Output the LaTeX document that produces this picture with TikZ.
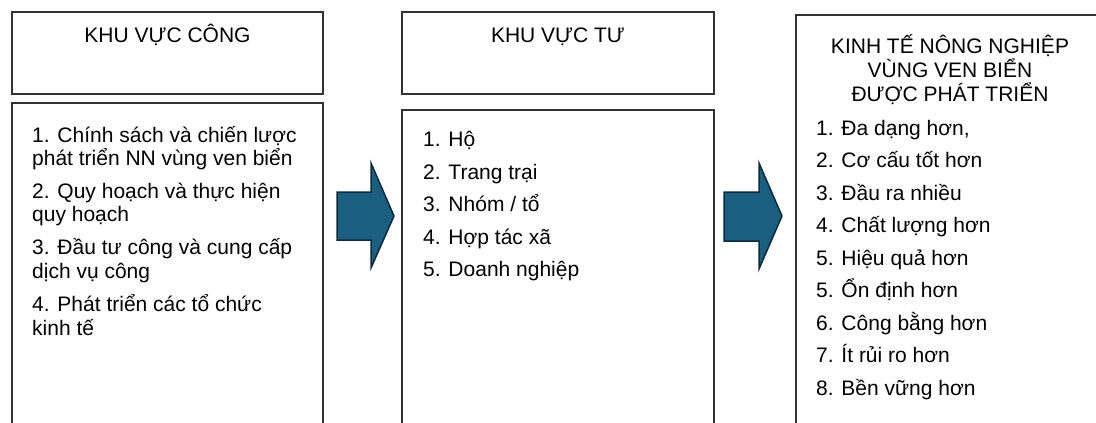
\documentclass[tikz,border=0pt]{standalone}
\usepackage{fontspec}
\setmainfont{Liberation Sans}
\definecolor{arrowfill}{HTML}{1A5E80}
\definecolor{arrowline}{HTML}{0E2B3C}
\definecolor{boxline}{HTML}{333333}
\begin{document}
\begin{tikzpicture}[x=1pt,y=-1pt,
  panel/.style={draw=boxline,line width=1.3pt,fill=white},
  item/.style={anchor=base west,inner sep=0pt,align=left,font=\fontsize{21}{23.5}\selectfont},
  title/.style={anchor=base,inner sep=0pt,align=center,font=\fontsize{21}{24}\selectfont},
  blockarrow/.style={fill=arrowfill,draw=arrowline,line width=1.5pt,line join=miter}]
\useasboundingbox (0,0) rectangle (1096,423);
\clip (0,0) rectangle (1096,423);
% boxes
\draw[panel] (12,12) rectangle (323,94);
\draw[panel] (12,103) rectangle (323,440);
\draw[panel] (402,12) rectangle (714,94);
\draw[panel] (402,110) rectangle (714,440);
\draw[panel] (796,15) rectangle (1104,440);
% titles
\node[title] (t1) at (167.5,42.3) {KHU VỰC CÔNG};
\node[title] (t2) at (558,42.3) {KHU VỰC TƯ};
\node[title] (t3a) at (950,53.3) {KINH TẾ NÔNG NGHIỆP};
\node[title] (t3b) at (950,77.8) {VÙNG VEN BIỂN};
\node[title] (t3c) at (950,101.7) {ĐƯỢC PHÁT TRIỂN};
% box 1 items (anchored at the baseline of their last line)
\node[item] (a1) at (32,165.5) {1. Chính sách và chiến lược\\phát triển NN vùng ven biển};
\node[item] (a2) at (32,221.7) {2. Quy hoạch và thực hiện\\quy hoạch};
\node[item] (a3) at (32,278.3) {3. Đầu tư công và cung cấp\\dịch vụ công};
\node[item] (a4) at (32,335) {4. Phát triển các tổ chức\\kinh tế};
% box 2 items
\node[item] (b1) at (423,146.7) {1. Hộ};
\node[item] (b2) at (423,179.2) {2. Trang trại};
\node[item] (b3) at (423,211.7) {3. Nhóm / tổ};
\node[item] (b4) at (423,244.2) {4. Hợp tác xã};
\node[item] (b5) at (423,276.7) {5. Doanh nghiệp};
% box 3 items
\node[item] (c1) at (816,135) {1. Đa dạng hơn,};
\node[item] (c2) at (816,167.5) {2. Cơ cấu tốt hơn};
\node[item] (c3) at (816,200) {3. Đầu ra nhiều};
\node[item] (c4) at (816,232.5) {4. Chất lượng hơn};
\node[item] (c5) at (816,265) {5. Hiệu quả hơn};
\node[item] (c6) at (816,297.5) {5. Ổn định hơn};
\node[item] (c7) at (816,330) {6. Công bằng hơn};
\node[item] (c8) at (816,362.5) {7. Ít rủi ro hơn};
\node[item] (c9) at (816,395) {8. Bền vững hơn};
% block arrows
\draw[blockarrow] (337,192) -- (371,192) -- (371,163) -- (394,216) -- (371,268) -- (371,240) -- (337,240) -- cycle;
\draw[blockarrow] (724,192) -- (759,192) -- (759,163) -- (782,216) -- (759,269) -- (759,241) -- (724,241) -- cycle;
\end{tikzpicture}
\end{document}
